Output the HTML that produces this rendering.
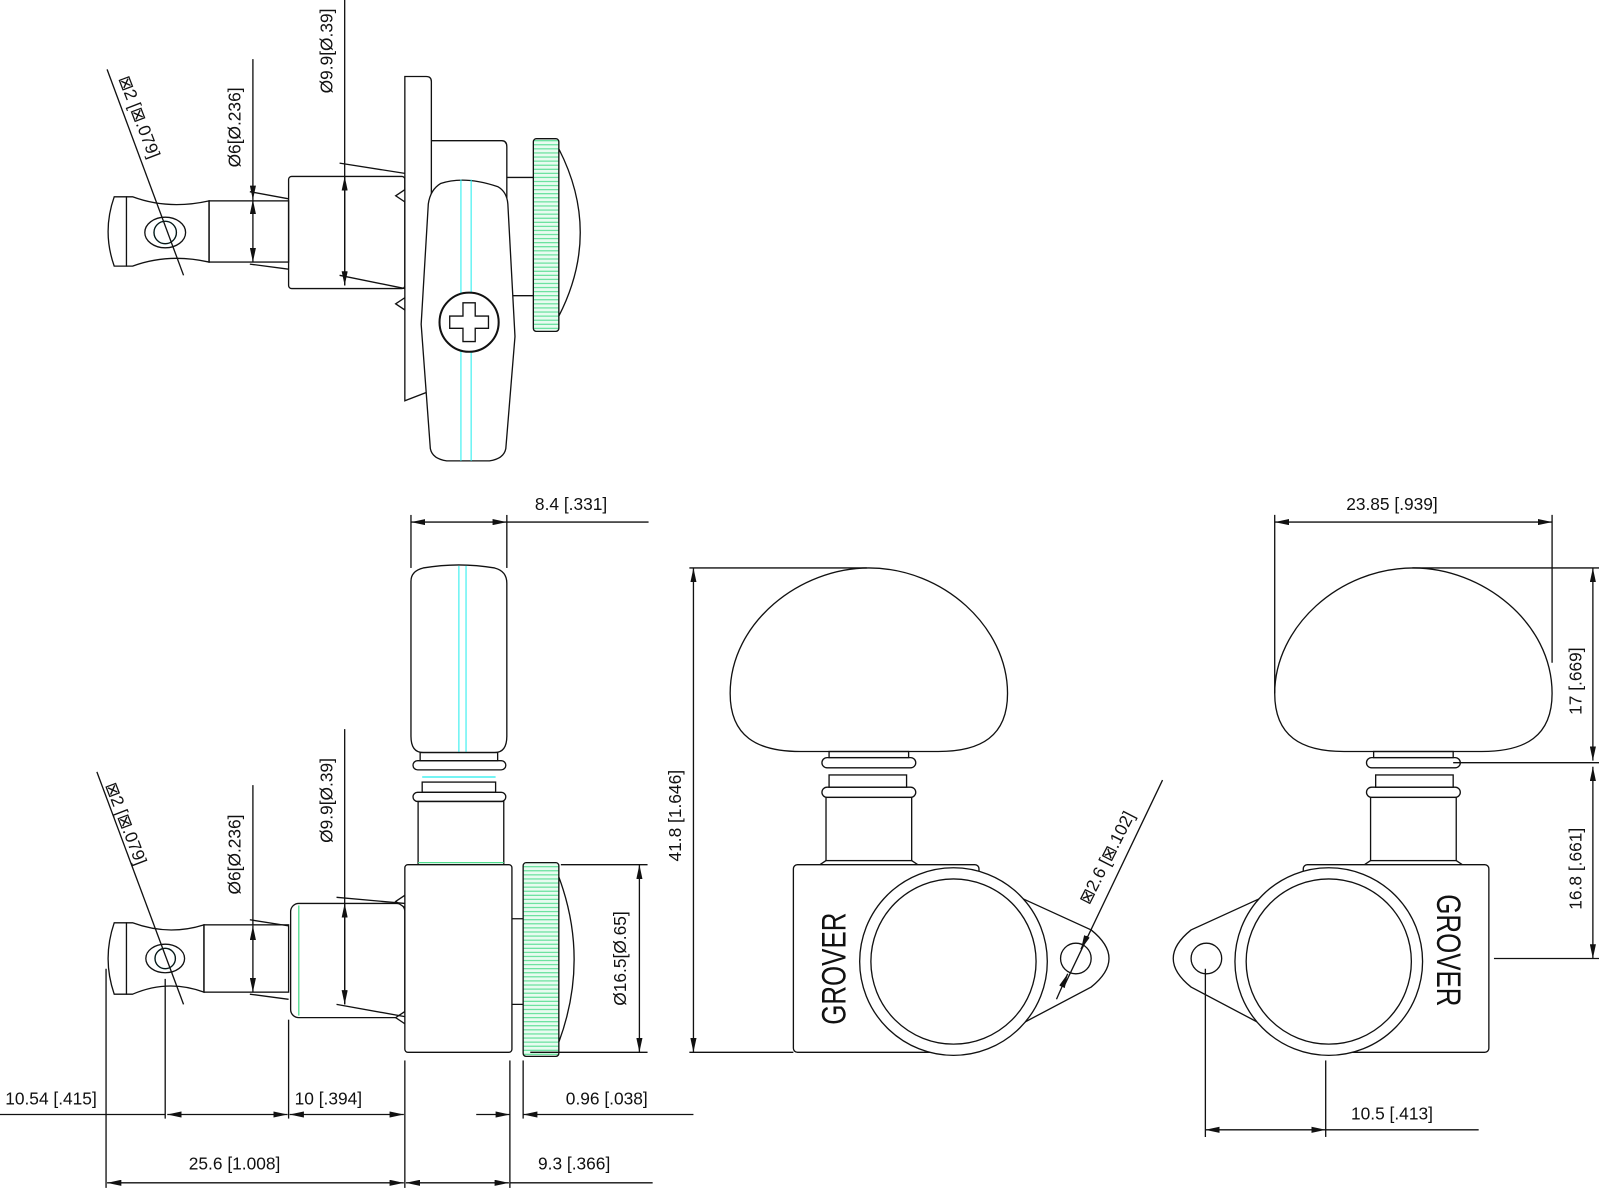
<!DOCTYPE html>
<html><head><meta charset="utf-8"><style>
html,body{margin:0;padding:0;background:#fff;}
svg{display:block;}
text{font-family:"Liberation Sans",sans-serif;font-size:17px;fill:#111;}
</style></head><body>
<svg width="1599" height="1192" viewBox="0 0 1568 1169" preserveAspectRatio="none" xmlns="http://www.w3.org/2000/svg">
<defs>
<marker id="a" viewBox="0 0 14 6" refX="14" refY="3" markerWidth="14" markerHeight="6" markerUnits="userSpaceOnUse" orient="auto-start-reverse"><path d="M0,0 L14,3 L0,6 Z" fill="#111"/></marker>
<pattern id="knurl" width="4" height="4" patternUnits="userSpaceOnUse"><rect width="4" height="4" fill="#e8fbf0"/><line x1="0" y1="2" x2="4" y2="2" stroke="#4ddc8c" stroke-width="1"/></pattern>
</defs>
<g fill="none" stroke="#111" stroke-width="1.3">

<!-- ===== TOP VIEW ===== -->
<path d="M112,193 Q100,227 112,261 L124,261 L124,193 Z" fill="#fff"/>
<path d="M124,193 L130,193 Q165,206 205,197 L205,257 Q165,248 130,261 L124,261"/>
<rect x="205" y="197" width="78" height="60"/>
<ellipse cx="162" cy="228" rx="20" ry="15"/>
<circle cx="162" cy="228" r="11" stroke="#2ee" />
<circle cx="162" cy="228" r="11"/>
<rect x="283" y="173" width="114" height="110" rx="3"/>
<path d="M397,75 L418,75 Q423,75 423,80 L423,383 L397,393 Z" fill="#fff"/>
<path d="M388,192 L397,186 L397,198 Z M388,298 L397,292 L397,304 Z" fill="#fff"/>
<path d="M423,138 L492,138 Q497,138 497,144 L497,340"/>
<path d="M497,174 L523,174 M497,290 L523,290"/>
<rect x="523" y="136" width="25" height="189" rx="3" fill="url(#knurl)"/>
<path d="M548,146 Q590,228 548,310"/>
<path d="M432,180 Q455,172 488,183 Q497,188 498,200 L505,330 L496,440 Q494,450 480,452 L438,452 Q424,450 422,440 L413,318 L420,200 Q422,186 432,180 Z" fill="#fff"/>
<line x1="452" y1="176" x2="452" y2="452" stroke="#2ee" stroke-width="1"/>
<line x1="462" y1="176" x2="462" y2="452" stroke="#2ee" stroke-width="1"/>
<circle cx="460" cy="316" r="29" fill="#fff" stroke-width="2"/>
<path d="M454,297 L466,297 L466,310 L479,310 L479,322 L466,322 L466,335 L454,335 L454,322 L441,322 L441,310 L454,310 Z"/>
<!-- top dims -->
<line x1="248" y1="58" x2="248" y2="196" marker-end="url(#a)"/>
<line x1="248" y1="196" x2="248" y2="257" marker-start="url(#a)" marker-end="url(#a)"/>
<line x1="245" y1="188" x2="283" y2="195"/><line x1="245" y1="259" x2="283" y2="264"/>
<line x1="338" y1="0" x2="338" y2="280" />
<line x1="338" y1="173" x2="338" y2="280" marker-start="url(#a)" marker-end="url(#a)"/>
<line x1="333" y1="160" x2="397" y2="170"/><line x1="333" y1="270" x2="397" y2="283"/>
<line x1="105" y1="68" x2="180" y2="270"/>

<!-- ===== SIDE VIEW ===== -->
<path d="M403,570 Q403,560 415,557 Q450,551 485,557 Q497,560 497,572 L497,722 Q497,738 485,738 L415,738 Q403,738 403,722 Z" fill="#fff"/>
<line x1="450" y1="555" x2="450" y2="738" stroke="#2ee" stroke-width="1"/>
<line x1="457" y1="555" x2="457" y2="738" stroke="#2ee" stroke-width="1"/>
<rect x="412" y="738" width="76" height="8"/>
<rect x="405" y="746" width="91" height="9" rx="4.5"/>
<rect x="414" y="767" width="72" height="10"/>
<line x1="414" y1="762" x2="486" y2="762" stroke="#2ee"/>
<rect x="405" y="777" width="91" height="9" rx="4.5"/>
<rect x="410" y="786" width="84" height="62"/>
<line x1="410" y1="846" x2="494" y2="846" stroke="#4ddc8c"/>
<rect x="397" y="848" width="105" height="184" rx="3" fill="#fff"/>
<path d="M502,901 L513,901 M502,985 L513,985"/>
<rect x="513" y="846" width="35" height="190" rx="3" fill="url(#knurl)"/>
<path d="M548,860 Q578,941 548,1022"/>
<rect x="285" y="886" width="112" height="112" rx="8"/>
<line x1="293" y1="888" x2="293" y2="996" stroke="#4ddc8c"/>
<path d="M388,884 L397,878 L397,890 Z M388,998 L397,992 L397,1004 Z" fill="#fff"/>
<path d="M112,905 Q100,940 112,975 L124,975 L124,905 Z" fill="#fff"/>
<path d="M124,905 L130,905 Q165,918 200,907 L200,973 Q165,960 130,975 L124,975"/>
<rect x="200" y="907" width="83" height="66"/>
<ellipse cx="162" cy="940" rx="19" ry="14"/>
<circle cx="162" cy="940" r="10" stroke="#2ee"/>
<circle cx="162" cy="940" r="10"/>
<!-- side dims -->
<line x1="248" y1="770" x2="248" y2="908" />
<line x1="248" y1="908" x2="248" y2="973" marker-start="url(#a)" marker-end="url(#a)"/>
<line x1="245" y1="902" x2="283" y2="908"/><line x1="245" y1="975" x2="283" y2="980"/>
<line x1="338" y1="715" x2="338" y2="985"/>
<line x1="338" y1="886" x2="338" y2="985" marker-start="url(#a)" marker-end="url(#a)"/>
<line x1="330" y1="880" x2="397" y2="886"/><line x1="330" y1="985" x2="397" y2="997"/>
<line x1="95" y1="757" x2="180" y2="985"/>
<line x1="403" y1="505" x2="403" y2="557"/><line x1="497" y1="505" x2="497" y2="557"/>
<line x1="403" y1="512" x2="497" y2="512" marker-start="url(#a)" marker-end="url(#a)"/>
<line x1="497" y1="512" x2="636" y2="512"/>
<line x1="550" y1="848" x2="635" y2="848"/><line x1="520" y1="1032" x2="635" y2="1032"/>
<line x1="627" y1="848" x2="627" y2="1032" marker-start="url(#a)" marker-end="url(#a)"/>
<!-- bottom dims -->
<line x1="104" y1="950" x2="104" y2="1165"/>
<line x1="162" y1="960" x2="162" y2="1097"/>
<line x1="283" y1="1000" x2="283" y2="1097"/>
<line x1="397" y1="1040" x2="397" y2="1165"/>
<line x1="500" y1="1040" x2="500" y2="1165"/>
<line x1="513" y1="1040" x2="513" y2="1097"/>
<line x1="0" y1="1093" x2="162" y2="1093"/>
<line x1="164" y1="1093" x2="282" y2="1093" marker-start="url(#a)" marker-end="url(#a)"/>
<line x1="284" y1="1093" x2="396" y2="1093" marker-start="url(#a)" marker-end="url(#a)"/>
<line x1="467" y1="1093" x2="500" y2="1093" marker-end="url(#a)"/>
<line x1="513" y1="1093" x2="680" y2="1093" marker-start="url(#a)"/>
<line x1="105" y1="1160" x2="396" y2="1160" marker-start="url(#a)" marker-end="url(#a)"/>
<line x1="398" y1="1160" x2="499" y2="1160" marker-start="url(#a)" marker-end="url(#a)"/>
<line x1="500" y1="1160" x2="640" y2="1160"/>

<!-- ===== FRONT VIEW ===== -->
<g id="fv">
<path d="M716,680 C716,610 785,557 852,557 C925,557 988,615 988,680 C988,722 962,737 920,737 L785,737 C742,737 716,722 716,680 Z" fill="#fff"/>
<rect x="813" y="737" width="78" height="6"/>
<rect x="806" y="743" width="92" height="10" rx="5"/>
<rect x="813" y="760" width="76" height="12"/>
<rect x="806" y="772" width="92" height="10" rx="5"/>
<rect x="810" y="782" width="84" height="62"/>
<path d="M810,844 L804,848 L900,848 L894,844"/>
<rect x="778" y="848" width="182" height="184" rx="4" fill="#fff"/>
<path d="M1000,880 L1070,912 Q1105,940 1070,968 L1000,1005" fill="#fff"/>
<circle cx="935" cy="943" r="92" fill="#fff"/>
<circle cx="935" cy="943" r="81"/>
<circle cx="1055" cy="940" r="15"/>
</g>
<use href="#fv" transform="translate(2238,0) scale(-1,1)"/>
<line x1="1043" y1="968" x2="1140" y2="765"/>
<line x1="1066" y1="918" x2="1060" y2="931" marker-end="url(#a)"/>
<line x1="1036" y1="980" x2="1047" y2="955" marker-end="url(#a)"/>
<line x1="676" y1="557" x2="850" y2="557"/><line x1="676" y1="1032" x2="778" y2="1032"/>
<line x1="680" y1="557" x2="680" y2="1032" marker-start="url(#a)" marker-end="url(#a)"/>

<!-- right dims -->
<line x1="1250" y1="505" x2="1250" y2="680"/><line x1="1522" y1="505" x2="1522" y2="650"/>
<line x1="1250" y1="512" x2="1522" y2="512" marker-start="url(#a)" marker-end="url(#a)"/>
<line x1="1385" y1="557" x2="1568" y2="557"/>
<line x1="1425" y1="748" x2="1568" y2="748"/>
<line x1="1465" y1="940" x2="1568" y2="940"/>
<line x1="1562" y1="557" x2="1562" y2="746" marker-start="url(#a)" marker-end="url(#a)"/>
<line x1="1562" y1="752" x2="1562" y2="940" marker-start="url(#a)" marker-end="url(#a)"/>
<line x1="1182" y1="950" x2="1182" y2="1115"/><line x1="1300" y1="1040" x2="1300" y2="1115"/>
<line x1="1182" y1="1108" x2="1300" y2="1108" marker-start="url(#a)" marker-end="url(#a)"/>
<line x1="1300" y1="1108" x2="1450" y2="1108"/>
</g>

<!-- texts -->
<text transform="translate(236,125) rotate(-90)" text-anchor="middle">Ø6[Ø.236]</text>
<text transform="translate(326,50) rotate(-90)" text-anchor="middle">Ø9.9[Ø.39]</text>
<text transform="translate(116,77) rotate(69)">⊠2 [⊠.079]</text>
<text transform="translate(236,838) rotate(-90)" text-anchor="middle">Ø6[Ø.236]</text>
<text transform="translate(326,785) rotate(-90)" text-anchor="middle">Ø9.9[Ø.39]</text>
<text transform="translate(103,770) rotate(69)">⊠2 [⊠.079]</text>
<text x="560" y="500" text-anchor="middle">8.4 [.331]</text>
<text transform="translate(614,940) rotate(-90)" text-anchor="middle">Ø16.5[Ø.65]</text>
<text transform="translate(668,800) rotate(-90)" text-anchor="middle">41.8 [1.646]</text>
<text x="50" y="1083" text-anchor="middle">10.54 [.415]</text>
<text x="322" y="1083" text-anchor="middle">10 [.394]</text>
<text x="595" y="1083" text-anchor="middle">0.96 [.038]</text>
<text x="230" y="1147" text-anchor="middle">25.6 [1.008]</text>
<text x="563" y="1147" text-anchor="middle">9.3 [.366]</text>
<text transform="translate(1068,888) rotate(-63)">⊠2.6 [⊠.102]</text>
<text x="1365" y="500" text-anchor="middle">23.85 [.939]</text>
<text transform="translate(1551,668) rotate(-90)" text-anchor="middle">17 [.669]</text>
<text transform="translate(1551,852) rotate(-90)" text-anchor="middle">16.8 [.661]</text>
<text x="1365" y="1098" text-anchor="middle">10.5 [.413]</text>
<text transform="translate(829,950) rotate(-90)" text-anchor="middle" style="font-size:34px" textLength="110" lengthAdjust="spacingAndGlyphs">GROVER</text>
<text transform="translate(1409,932) rotate(90)" text-anchor="middle" style="font-size:34px" textLength="110" lengthAdjust="spacingAndGlyphs">GROVER</text>
</svg>
</body></html>
